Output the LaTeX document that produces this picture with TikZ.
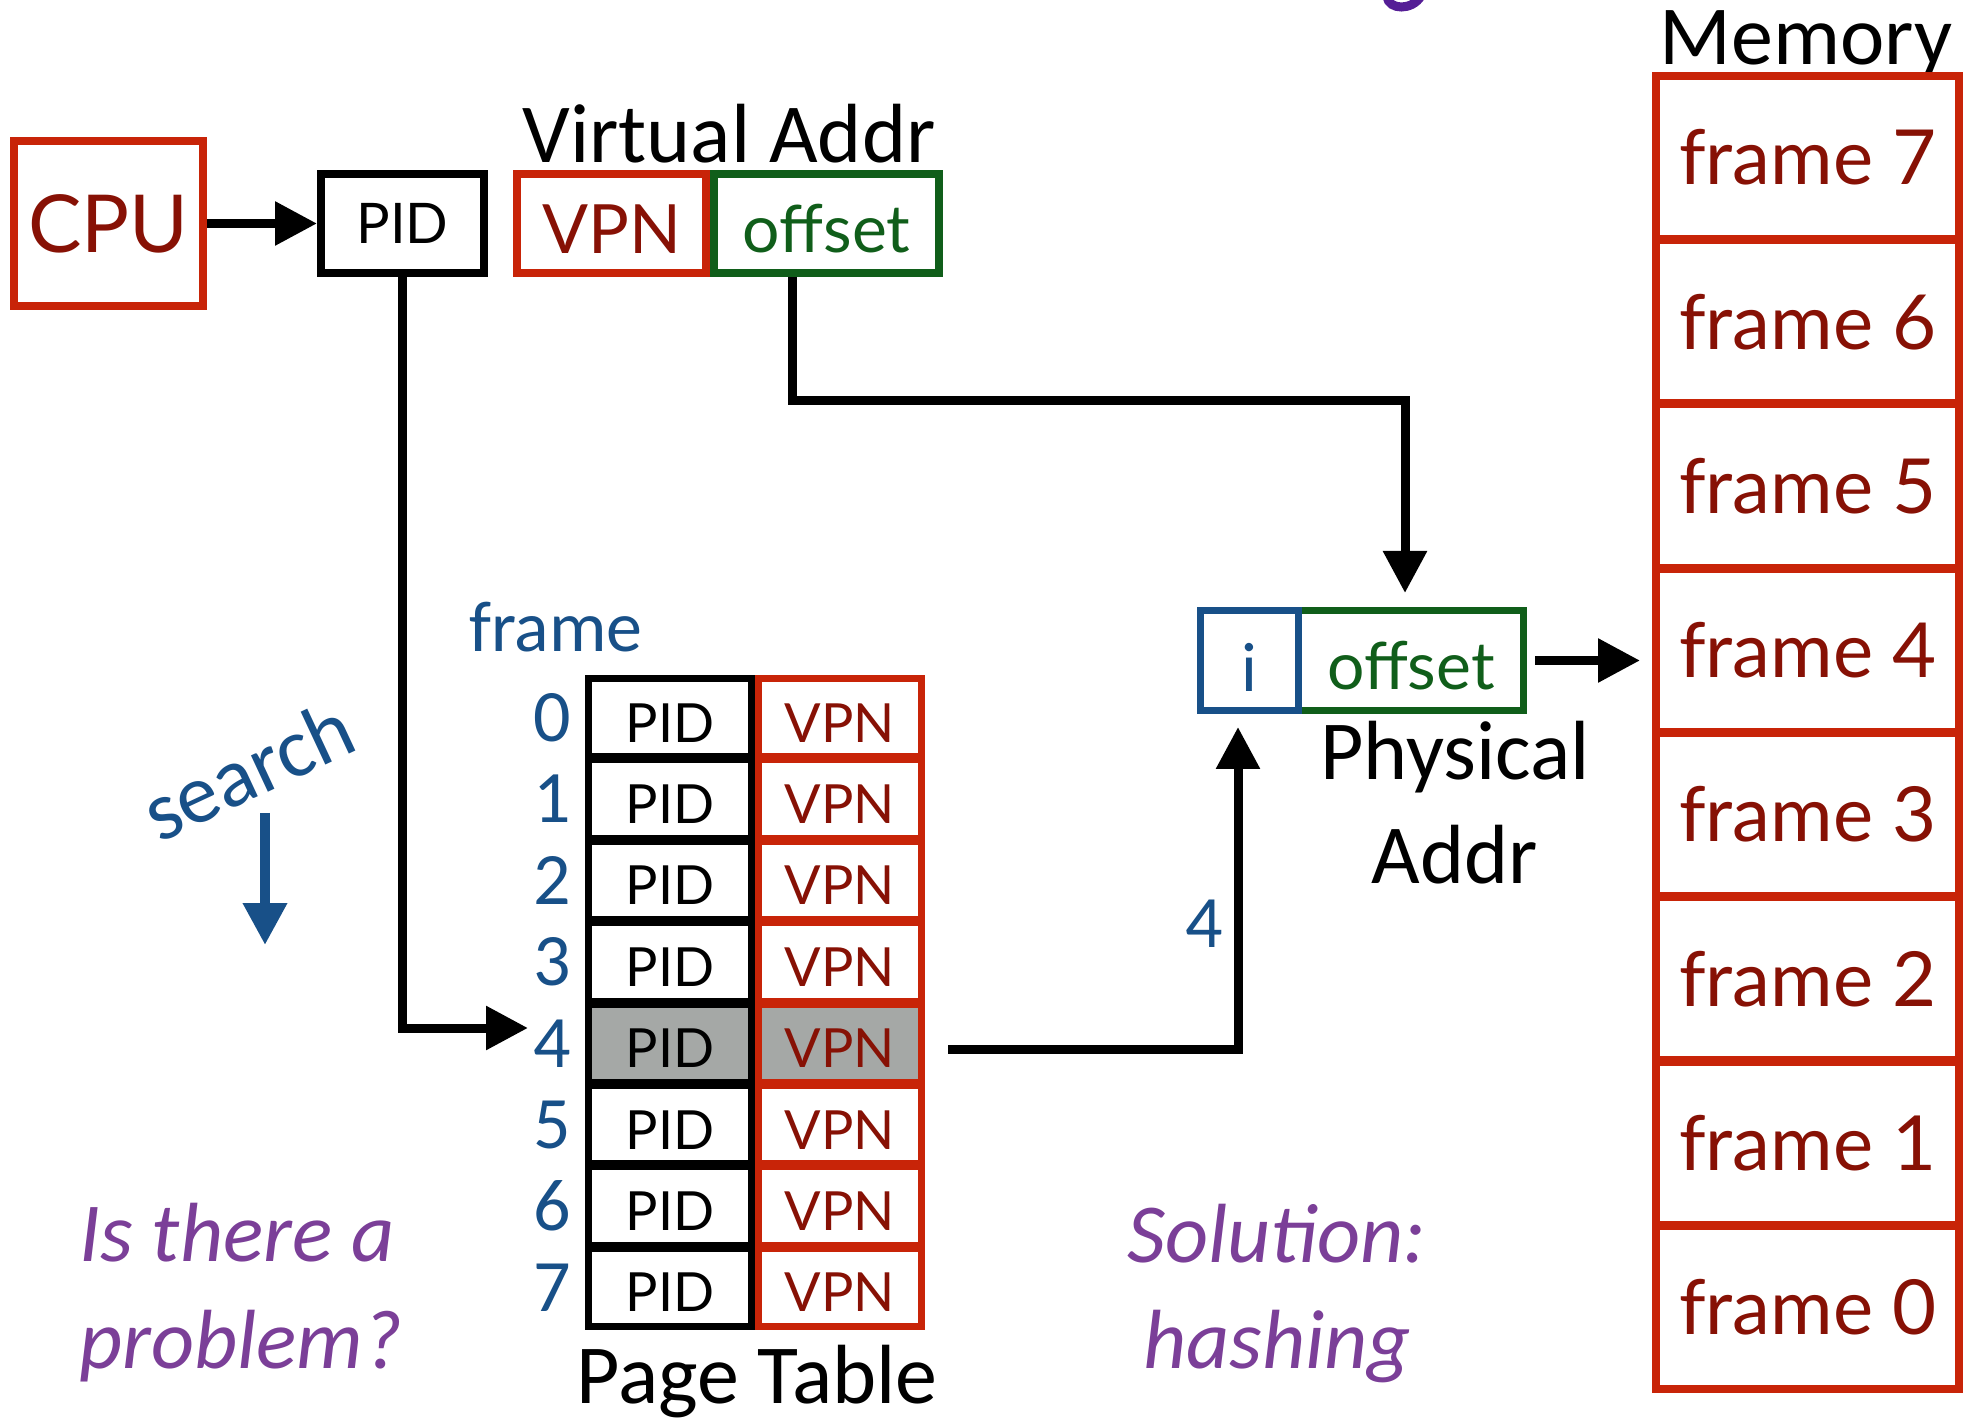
\documentclass[tikz,border=0pt]{standalone}
\usepackage{fontspec}
\setmainfont{Carlito}
\newfontfamily\gillfam{Lato}
\newfontfamily\califam{Carlito}
\usetikzlibrary{arrows.meta}
\definecolor{boxred}{RGB}{200,36,8}
\definecolor{txtred}{RGB}{135,17,5}
\definecolor{grn}{RGB}{16,94,26}
\definecolor{blu}{RGB}{24,80,136}
\definecolor{purp}{RGB}{123,63,152}
\definecolor{titlepurp}{RGB}{85,30,150}
\definecolor{cellgray}{RGB}{165,168,166}
\newcommand{\fsz}[1]{\fontsize{#1}{#1}\selectfont}
\begin{document}
\begin{tikzpicture}[x=0.5pt,y=-0.5pt,
  box/.style={draw, rectangle, inner sep=0pt, line width=4pt},
  cell/.style={draw, rectangle, inner sep=0pt, line width=3.5pt, minimum width=81.5pt, minimum height=39.2pt, font=\gillfam\fsz{27pt}, text height=24.4pt, text depth=0pt},
  memcell/.style={draw=boxred, rectangle, line width=4pt, minimum width=151.5pt, minimum height=81.6pt, inner xsep=11.5pt, inner ysep=0pt, font=\gillfam\fsz{38pt}, text=txtred},
  arr/.style={line width=4.5pt, -{Triangle[length=21pt,width=21pt]}},
  blarr/.style={line width=5pt, draw=blu, -{Triangle[length=21pt,width=21pt]}},
  calt/.style={font=\califam\fsz{42pt}},
  purpt/.style={font=\califam\itshape\fsz{42pt}, text=purp},
  numt/.style={font=\califam\fsz{37pt}, text=blu}
]
\fill[white] (0,0) rectangle (1977,1422);
\useasboundingbox (0,0) rectangle (1977,1422);

% title fragment
\draw[titlepurp, line width=4.5pt, line cap=round] (1387,-3) .. controls (1389,10) and (1412,11) .. (1421,-4);

% top row
\node[box, draw=boxred, minimum width=94.5pt, minimum height=82.5pt, font=\gillfam\fsz{40pt}, text=txtred] (cpu) at (108.5,223.5) {CPU};
\node[box, draw=black, minimum width=81.5pt, minimum height=49.5pt, font=\gillfam\fsz{28pt}] (pidtop) at (402.5,223.5) {PID};
\node[box, draw=boxred, minimum width=94.5pt, minimum height=49.5pt, font=\gillfam\fsz{34pt}, text=txtred, text height=29.9pt, text depth=0pt] (vpntop) at (611.5,223.5) {VPN};
\node[box, draw=grn, minimum width=112.5pt, minimum height=49.5pt, font=\gillfam\fsz{33pt}, text=grn, text height=29.5pt, text depth=0pt] (offtop) at (826.5,223.5) {offset};
\node[calt, anchor=base] (vaddr) at (729,163) {Virtual Addr};

% memory
\node[calt, anchor=base] (memlbl) at (1806,65) {Memory};
\foreach \lab [count=\k from 0] in {7,6,5,4,3,2,1,0}
  \node[memcell] (mem\lab) at (1807.5,{157.6+164.25*\k}) {\makebox[128.5pt][l]{frame \lab}};

% physical address
\node[box, line width=3.5pt, draw=grn, minimum width=112.5pt, minimum height=50pt, font=\gillfam\fsz{33pt}, text=grn, text height=29.5pt, text depth=0pt] (physoff) at (1411,660.5) {offset};
\node[box, line width=3.5pt, draw=blu, minimum width=49pt, minimum height=50pt, font=\gillfam\fsz{33pt}, text=blu, text height=30.9pt, text depth=0pt] (ibox) at (1249.5,660.5) {i};
\node[calt, anchor=base] (phys1) at (1455,780) {Physical};
\node[calt, anchor=base] (phys2) at (1455,883) {Addr};

% page table
\node[font=\califam\fsz{36pt}, text=blu, anchor=base] (framelbl) at (556,652) {frame};
\foreach \r/\fc in {0/none,1/none,2/none,3/none,4/cellgray,5/none,6/none,7/none} {
  \node[cell, draw=black, fill=\fc] (pid\r) at (670,{717.7+81.4*\r}) {PID};
  \node[cell, draw=boxred, fill=\fc, text=txtred] (vpn\r) at (840,{717.7+81.4*\r}) {VPN};
  \node[numt, anchor=east] (num\r) at (578,{717.7+81.4*\r}) {\r};
}
\node[calt, anchor=base] (ptlbl) at (757,1403) {Page Table};

% connectors
\draw[arr] (cpu.east) -- (pidtop.west);
\coordinate (ptip) at (528,1028);
\draw[arr] (pidtop.south) -- (pidtop.south |- ptip) -- (ptip);
\coordinate (obend) at (792,401);
\coordinate (oentry) at (1405,593);
\draw[arr] (offtop.south -| obend) -- (obend) -- (obend -| oentry) -- (oentry);
\draw[arr, shorten <=4pt, shorten >=6pt] (physoff.east) -- (physoff.east -| mem4.west);
\coordinate (ientry) at (1238,727);
\coordinate (rowout) at (948,1049);
\draw[arr] (rowout) -- (rowout -| ientry) -- (ientry);
\node[numt] (fourlbl) at (1204,924) {4};

% search
\node[font=\califam\fsz{42pt}, text=blu, rotate=25, anchor=base] (searchlbl) at (260,796) {search};
\coordinate (sa) at (265,813);
\coordinate (sb) at (265,945);
\draw[blarr] (sa) -- (sb);

% questions
\node[purpt, anchor=base west] (q1) at (72,1261) {Is there a};
\node[purpt, anchor=base west] (q2) at (72,1368) {problem?};
\node[purpt, anchor=base] (sol1) at (1277,1262) {Solution:};
\node[purpt, anchor=base] (sol2) at (1277,1368) {hashing};
\end{tikzpicture}
\end{document}
